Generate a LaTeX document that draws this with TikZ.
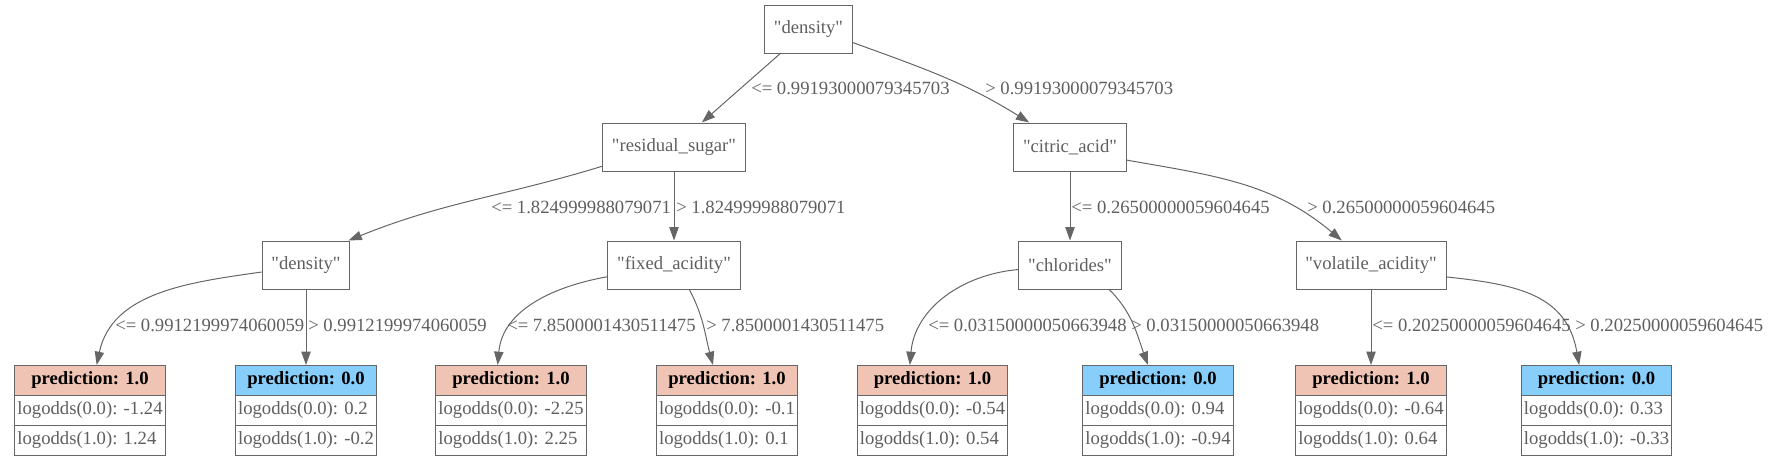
\documentclass[tikz,border=0pt]{standalone}
\usepackage{fontspec}
\setmainfont{Liberation Serif}
\definecolor{edgegray}{HTML}{666666}
\definecolor{textgray}{HTML}{5F5F5F}
\definecolor{leafsalmon}{HTML}{F0C4B4}
\definecolor{leafblue}{HTML}{87CEFA}
\usetikzlibrary{arrows.meta,shapes.multipart}
\newcommand{\qname}[1]{\textquotedbl#1\textquotedbl}

\begin{document}
\begin{tikzpicture}[x=0.75pt,y=0.75pt,
  featbox/.style={draw=edgegray,line width=0.75pt,text=textgray,rectangle,
    minimum height=36pt,inner xsep=7pt,font=\fontsize{14}{17}\selectfont},
  leafbox/.style={rectangle split,rectangle split parts=3,draw=edgegray,
    line width=0.75pt,rectangle split part align={center,left,left},
    inner xsep=2pt,inner ysep=4.5pt,text=textgray,anchor=north,
    font=\fontsize{14}{17}\selectfont},
  leafone/.style={leafbox,rectangle split part fill={leafsalmon,white,white}},
  leafzero/.style={leafbox,rectangle split part fill={leafblue,white,white}},
  cutlbl/.style={anchor=west,inner sep=0pt,text=textgray,
    font=\fontsize{14}{17}\selectfont},
  edge/.style={draw=edgegray,line width=0.75pt,
    -{Triangle[length=10pt,width=7pt]}}]
  \useasboundingbox (0,0) rectangle (1771,-465);
  % split nodes
  \node[featbox] (root) at (808.5,-29) {\qname{density}};
  \node[featbox] (rs) at (674,-147) {\qname{residual\_sugar}};
  \node[featbox] (ca) at (1070,-147) {\qname{citric\_acid}};
  \node[featbox] (dens) at (306,-265) {\qname{density}};
  \node[featbox] (fa) at (674,-265) {\qname{fixed\_acidity}};
  \node[featbox] (chl) at (1070,-265) {\qname{chlorides}};
  \node[featbox] (va) at (1371,-265) {\qname{volatile\_acidity}};
  % leaves
  \node[leafone] (p1) at (90,-365) {\textcolor{black}{\textbf{prediction: 1.0}}
    \nodepart{two} logodds(0.0): -1.24 \nodepart{three} logodds(1.0): 1.24};
  \node[leafzero] (p2) at (306,-365) {\textcolor{black}{\textbf{prediction: 0.0}}
    \nodepart{two} logodds(0.0): 0.2 \nodepart{three} logodds(1.0): -0.2};
  \node[leafone] (p3) at (511,-365) {\textcolor{black}{\textbf{prediction: 1.0}}
    \nodepart{two} logodds(0.0): -2.25 \nodepart{three} logodds(1.0): 2.25};
  \node[leafone] (p4) at (727,-365) {\textcolor{black}{\textbf{prediction: 1.0}}
    \nodepart{two} logodds(0.0): -0.1 \nodepart{three} logodds(1.0): 0.1};
  \node[leafone] (p5) at (932.5,-365) {\textcolor{black}{\textbf{prediction: 1.0}}
    \nodepart{two} logodds(0.0): -0.54 \nodepart{three} logodds(1.0): 0.54};
  \node[leafzero] (p6) at (1158,-365) {\textcolor{black}{\textbf{prediction: 0.0}}
    \nodepart{two} logodds(0.0): 0.94 \nodepart{three} logodds(1.0): -0.94};
  \node[leafone] (p7) at (1371,-365) {\textcolor{black}{\textbf{prediction: 1.0}}
    \nodepart{two} logodds(0.0): -0.64 \nodepart{three} logodds(1.0): 0.64};
  \node[leafzero] (p8) at (1596.5,-365) {\textcolor{black}{\textbf{prediction: 0.0}}
    \nodepart{two} logodds(0.0): 0.33 \nodepart{three} logodds(1.0): -0.33};
  % edges
  \draw[edge] (root.221) -- (rs);
  \draw[edge] (root.-17) to[out=-20,in=148] (ca.149);
  \draw[edge] (rs.195) to[out=197,in=22] (dens.30);
  \draw[edge] (rs.south) -- (fa.north);
  \draw[edge] (ca.south) -- (chl.north);
  \draw[edge] (ca.-13) to[out=-10,in=140] (va.140);
  \draw[edge] (dens.189) to[out=188,in=78] ([xshift=5pt]p1.north);
  \draw[edge] (dens.south) -- (p2.north);
  \draw[edge] (fa.190) to[out=190,in=85] ([xshift=-10pt]p3.north);
  \draw[edge] (fa.-58) to[out=-62,in=105] ([xshift=-10.5pt]p4.north);
  \draw[edge] (chl.185) to[out=185,in=85] ([xshift=-17pt]p5.north);
  \draw[edge] (chl.-32) to[out=-45,in=110] ([xshift=-7.5pt]p6.north);
  \draw[edge] (va.south) -- (p7.north);
  \draw[edge] (va.-9) to[out=-6,in=100,looseness=1.15] ([xshift=-13pt]p8.north);
  % thresholds
  \node[cutlbl] (c1) at (751,-88) {<= 0.99193000079345703};
  \node[cutlbl] (c2) at (985,-88) {> 0.99193000079345703};
  \node[cutlbl] (c3) at (491,-207) {<= 1.824999988079071};
  \node[cutlbl] (c4) at (676,-207) {> 1.824999988079071};
  \node[cutlbl] (c5) at (1071,-207) {<= 0.26500000059604645};
  \node[cutlbl] (c6) at (1307,-207) {> 0.26500000059604645};
  \node[cutlbl] (c7) at (115,-325) {<= 0.9912199974060059};
  \node[cutlbl] (c8) at (308,-325) {> 0.9912199974060059};
  \node[cutlbl] (c9) at (507,-325) {<= 7.8500001430511475};
  \node[cutlbl] (c10) at (706,-325) {> 7.8500001430511475};
  \node[cutlbl] (c11) at (928,-325) {<= 0.03150000050663948};
  \node[cutlbl] (c12) at (1131,-325) {> 0.03150000050663948};
  \node[cutlbl] (c13) at (1372,-325) {<= 0.20250000059604645};
  \node[cutlbl] (c14) at (1575,-325) {> 0.20250000059604645};
\end{tikzpicture}
\end{document}
